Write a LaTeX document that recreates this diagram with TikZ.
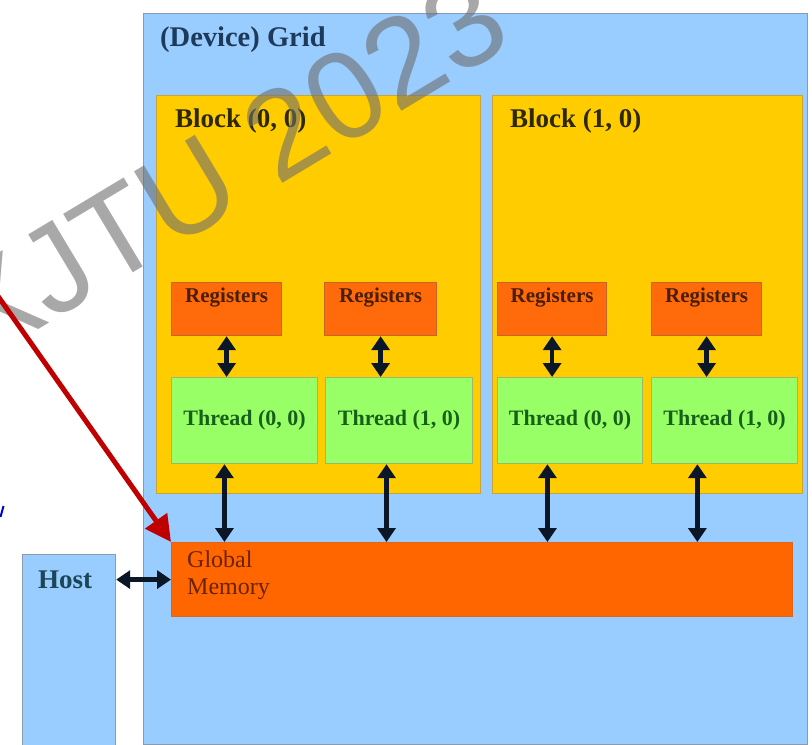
\documentclass[tikz,border=0pt]{standalone}
\usepackage{fontspec}
\setmainfont{Liberation Serif}
\newfontfamily\wmfont{Liberation Sans}
\usetikzlibrary{arrows.meta,calc}
\definecolor{gridblue}{HTML}{99CCFF}
\definecolor{gridline}{HTML}{8A9AB0}
\definecolor{blockfill}{HTML}{FFCC00}
\definecolor{blockline}{HTML}{C9A43A}
\definecolor{regfill}{HTML}{FF6A0A}
\definecolor{regline}{HTML}{C8642A}
\definecolor{threadfill}{HTML}{99FF66}
\definecolor{threadline}{HTML}{9CB86A}
\definecolor{memfill}{HTML}{FF6600}
\definecolor{linkcol}{HTML}{0B1626}
\definecolor{pointer}{HTML}{C00000}
\definecolor{gridtext}{HTML}{1E3A5A}
\definecolor{blocktext}{HTML}{2E2800}
\definecolor{regtext}{HTML}{4A1E00}
\definecolor{threadtext}{HTML}{17601A}
\definecolor{memtext}{HTML}{6A2200}
\definecolor{hosttext}{HTML}{1C4656}
\definecolor{wmgray}{HTML}{6E6E6E}
\begin{document}
\begin{tikzpicture}[x=1pt,y=-1pt,
  panel/.style={anchor=north west,inner sep=0pt,line width=1.2pt},
  gridbox/.style={panel,fill=gridblue,draw=gridline},
  blockbox/.style={panel,fill=blockfill,draw=blockline},
  regbox/.style={panel,fill=regfill,draw=regline},
  threadbox/.style={panel,fill=threadfill,draw=threadline,
    font=\fontsize{22}{26}\selectfont\bfseries,text=threadtext},
  membox/.style={panel,fill=memfill,draw=regline!60!memfill},
  title/.style={anchor=west,inner sep=0pt,font=\fontsize{27}{32}\selectfont\bfseries},
  regtitle/.style={inner sep=0pt,font=\fontsize{21}{25}\selectfont\bfseries,text=regtext},
  link/.style={draw=linkcol,line width=4.4pt,{Triangle[width=18pt,length=14pt]}-{Triangle[width=18pt,length=14pt]}},
  pointerarrow/.style={draw=pointer,line width=5pt,-{Triangle[width=26pt,length=26pt]}},
  wm/.style={font=\wmfont\fontsize{125}{125}\selectfont,text=wmgray,text opacity=0.6,inner sep=0pt}]

\useasboundingbox[fill=white] (0,0) rectangle (812,745);

% host and device grid
\node[gridbox,minimum width=93pt,minimum height=200pt] (host) at (22,554) {};
\node[title,text=hosttext] (hostlabel) at (38,580) {Host};
\node[gridbox,minimum width=664pt,minimum height=731pt] (grid) at (143,13) {};
\node[title,text=gridtext,font=\fontsize{28.5}{32}\selectfont\bfseries] (gridlabel) at (160,40) {(Device) Grid};

% blocks
\node[blockbox,minimum width=324pt,minimum height=398pt] (b0) at (156,95) {};
\node[blockbox,minimum width=310pt,minimum height=398pt] (b1) at (492,95) {};
\node[title,text=blocktext] (b0label) at (175,121) {Block (0, 0)};
\node[title,text=blocktext] (b1label) at (510,121) {Block (1, 0)};

% registers
\node[regbox,minimum width=110pt,minimum height=53pt] (r00) at (171,282) {};
\node[regbox,minimum width=112pt,minimum height=53pt] (r10) at (324,282) {};
\node[regbox,minimum width=109pt,minimum height=53pt] (r01) at (497,282) {};
\node[regbox,minimum width=110pt,minimum height=53pt] (r11) at (651,282) {};
\foreach \r in {r00,r10,r01,r11}
  \node[regtitle] (\r text) at ([yshift=-16pt]\r.north) {Registers};

% threads
\node[threadbox,minimum width=146pt,minimum height=86pt] (t00) at (171,377) {Thread (0, 0)};
\node[threadbox,minimum width=147pt,minimum height=86pt] (t10) at (325,377) {Thread (1, 0)};
\node[threadbox,minimum width=145pt,minimum height=86pt] (t01) at (497,377) {Thread (0, 0)};
\node[threadbox,minimum width=146pt,minimum height=86pt] (t11) at (651,377) {Thread (1, 0)};

% global memory
\node[membox,minimum width=621pt,minimum height=74pt] (gm) at (171,542) {};
\node[anchor=north west,inner sep=0pt,align=left,text=memtext,
  font=\fontsize{24}{27}\selectfont] (gmtext) at (187,551) {Global\\Memory};

% register <-> thread
\foreach \r/\t in {r00/t00,r10/t10,r01/t01,r11/t11}
  \draw[link] (\r.south) -- (\r.south |- \t.north);

% thread <-> global memory
\coordinate (a00) at ($(t00.south west)!0.363!(t00.south east)$);
\coordinate (a10) at ($(t10.south west)!0.415!(t10.south east)$);
\coordinate (a01) at ($(t01.south west)!0.345!(t01.south east)$);
\coordinate (a11) at ($(t11.south west)!0.315!(t11.south east)$);
\foreach \a in {a00,a10,a01,a11}
  \draw[link] (\a) -- (\a |- gm.north);

% host <-> global memory
\draw[link] (gm.west -| host.east) -- (gm.west);

% watermark
\node[wm,rotate=31] (mark) at (226,167) {XJTU 2023};

% pointer into global memory
\coordinate (ptrstart) at (-12,282);
\draw[pointerarrow] (ptrstart) -- (gm.north west);

% cut-off stroke at the left edge
\coordinate (s1) at (3.5,506);
\coordinate (s2) at (0.5,517);
\draw[blue!80!black,line width=2pt] (s1) -- (s2);
\end{tikzpicture}
\end{document}
